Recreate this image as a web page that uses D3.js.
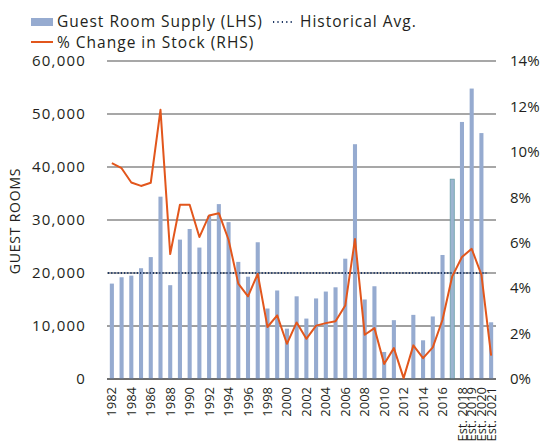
<!DOCTYPE html>
<html>
<head>
<meta charset="utf-8">
<script src="https://cdn.jsdelivr.net/npm/d3@7"></script>
<style>
  body { margin: 0; background: #fff; }
  text { font-family: "Open Sans", sans-serif; fill: #231f20; }
</style>
</head>
<body>
<svg id="chart"></svg>
<script>
// DATA
const years = d3.range(1982, 2022);
const yearLabels = ["1982","","1984","","1986","","1988","","1990","","1992","","1994","","1996","","1998","","2000","",
                    "2002","","2004","","2006","","2008","","2010","","2012","","2014","","2016","","Est. 2018","Est. 2019","Est. 2020","Est. 2021"];
const roomSupply = [18000, 19200, 19500, 20900, 23000, 34400, 17700, 26300, 28300, 24800,
                    30800, 33000, 29600, 22100, 19300, 25800, 13300, 16700, 9500, 15600,
                    11400, 15200, 16500, 17300, 22700, 44300, 15000, 17500, 5100, 11100,
                    0, 12100, 7300, 11800, 23400, 37700, 48500, 54800, 46400, 10700];
const stockChange = [9.5, 9.28, 8.65, 8.5, 8.64, 11.85, 5.5, 7.67, 7.67, 6.25,
                     7.2, 7.3, 6.13, 4.2, 3.64, 4.63, 2.29, 2.8, 1.55, 2.49,
                     1.77, 2.35, 2.46, 2.54, 3.24, 6.16, 1.95, 2.24, 0.66, 1.36,
                     0.04, 1.48, 0.92, 1.39, 2.61, 4.52, 5.37, 5.73, 4.59, 1.03];
const histAvg = 20000;
const highlightYear = 2017;
const leftTicks = [0, 10000, 20000, 30000, 40000, 50000, 60000];
const rightTicks = [0, 2, 4, 6, 8, 10, 12, 14];

// SET VARIABLES
const _width = 542, _height = 446;
const _plot = {left: 107, right: 496, top: 61, bottom: 379};
const _color = {bar: "#96abd0", barHi: "#9cb5d0", barHiStroke: "#6a9ea6", line: "#e2561c", avg: "#1f3864", grid: "#8a8a8a", gridDark: "#404040"};

const svg = d3.select("#chart").attr("width", _width).attr("height", _height);

const x = d3.scaleBand().domain(years).range([_plot.left, _plot.right]).paddingInner(0.58).paddingOuter(0.29);
const yL = d3.scaleLinear().domain([0, 60000]).range([_plot.bottom, _plot.top]);
const yR = d3.scaleLinear().domain([0, 14]).range([_plot.bottom, _plot.top]);

// GRIDLINES
svg.append("g").selectAll("line")
    .data(leftTicks)
    .enter()
  .append("line")
    .attr("x1", _plot.left)
    .attr("x2", _plot.right)
    .attr("y1", d => yL(d))
    .attr("y2", d => yL(d))
    .attr("stroke", d => d <= 10000 ? _color.gridDark : _color.grid)
    .attr("stroke-width", d => d <= 10000 ? 1 : 1.4);

// BARS
svg.append("g").selectAll("rect")
    .data(years)
    .enter()
  .append("rect")
    .attr("x", d => x(d))
    .attr("width", x.bandwidth())
    .attr("y", (d, i) => yL(roomSupply[i]))
    .attr("height", (d, i) => yL(0) - yL(roomSupply[i]))
    .attr("fill", d => d === highlightYear ? _color.barHi : _color.bar)
    .attr("stroke", d => d === highlightYear ? _color.barHiStroke : "none")
    .attr("stroke-width", 0.8);

// BOTTOM AXIS LINE
svg.append("line")
    .attr("x1", _plot.left).attr("x2", _plot.right)
    .attr("y1", yL(0)).attr("y2", yL(0))
    .attr("stroke", _color.gridDark).attr("stroke-width", 1);

// HISTORICAL AVG
svg.append("line")
    .attr("x1", _plot.left + 1)
    .attr("x2", x(years[years.length - 2]) + x.bandwidth() + 3)
    .attr("y1", yL(histAvg))
    .attr("y2", yL(histAvg))
    .attr("stroke", _color.avg)
    .attr("stroke-width", 2)
    .attr("stroke-dasharray", "1.2,2");

// % CHANGE LINE
const line = d3.line()
    .x((d, i) => x(years[i]) + x.bandwidth() / 2)
    .y(d => yR(d));
svg.append("path")
    .datum(stockChange)
    .attr("d", line)
    .attr("fill", "none")
    .attr("stroke", _color.line)
    .attr("stroke-width", 2)
    .attr("stroke-linejoin", "round");

// LEFT AXIS
svg.append("g").selectAll("text")
    .data(leftTicks)
    .enter()
  .append("text")
    .attr("x", 86)
    .attr("y", d => yL(d))
    .attr("dy", "0.35em")
    .attr("text-anchor", "end")
    .style("font-size", "15px")
    .style("letter-spacing", "1.2px")
    .text(d => d3.format(",")(d));

svg.append("text")
    .attr("transform", `translate(20, ${(_plot.top + _plot.bottom) / 2 + 1}) rotate(-90)`)
    .attr("text-anchor", "middle")
    .style("font-size", "14px")
    .style("letter-spacing", "0.8px")
    .text("GUEST ROOMS");

// RIGHT AXIS
svg.append("g").selectAll("text")
    .data(rightTicks)
    .enter()
  .append("text")
    .attr("x", 510)
    .attr("y", d => yR(d))
    .attr("dy", "0.35em")
    .style("font-size", "15px")
    .text(d => d + "%");

// X AXIS LABELS
svg.append("g").selectAll("text")
    .data(years)
    .enter()
  .append("text")
    .attr("transform", d => `translate(${x(d) + x.bandwidth() / 2}, 387) rotate(-90)`)
    .attr("dy", "0.35em")
    .attr("text-anchor", "end")
    .style("font-size", "13px")
    .text((d, i) => yearLabels[i]);

// LEGEND
const legend = svg.append("g").style("font-size", "15.5px").style("letter-spacing", "1px");
legend.append("rect")
    .attr("x", 31).attr("y", 18).attr("width", 22).attr("height", 8)
    .attr("fill", _color.bar);
legend.append("text")
    .attr("x", 57).attr("y", 22).attr("dy", "0.35em")
    .text("Guest Room Supply (LHS)");
legend.append("line")
    .attr("x1", 273).attr("x2", 295).attr("y1", 22).attr("y2", 22)
    .attr("stroke", _color.avg).attr("stroke-width", 2)
    .attr("stroke-dasharray", "1.2,3.2");
legend.append("text")
    .attr("x", 300).attr("y", 22).attr("dy", "0.35em")
    .text("Historical Avg.");
legend.append("line")
    .attr("x1", 31).attr("x2", 53).attr("y1", 42).attr("y2", 42)
    .attr("stroke", _color.line).attr("stroke-width", 2);
legend.append("text")
    .attr("x", 57).attr("y", 43).attr("dy", "0.35em")
    .text("% Change in Stock (RHS)");
</script>
</body>
</html>
